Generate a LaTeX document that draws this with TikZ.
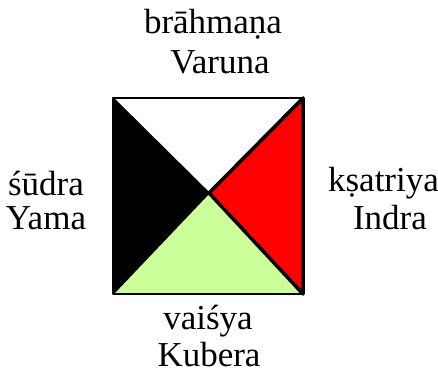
\documentclass[tikz,border=0pt]{standalone}
\usepackage{fontspec}
\setmainfont{Liberation Serif}
\definecolor{lgreen}{HTML}{CCFF99}
\begin{document}
\begin{tikzpicture}[x=1pt,y=1pt,
  lbl/.style={inner sep=0pt,font=\fontsize{35}{41}\selectfont,align=center},
  thin/.style={line width=1.5pt,line join=round},
  thick/.style={line width=3.5pt,line join=round}]
\useasboundingbox (0,0) rectangle (438,376);
\coordinate (tl) at (113,278);
\coordinate (tr) at (303,278);
\coordinate (bl) at (113,82);
\coordinate (br) at (303,82);
\coordinate (c) at (209,183);
\fill[white] (tl) -- (tr) -- (c) -- cycle;
\fill[black] (tl) -- (c) -- (bl) -- cycle;
\fill[lgreen] (bl) -- (c) -- (br) -- cycle;
\draw[thin] (tl) -- (tr) -- (br) -- (bl) -- cycle;
\draw[thin] (tl) -- (c) -- (bl);
\draw[thick,fill=red] (tr) -- (c) -- (br) -- cycle;
\node[lbl] (top1) at (213,352) {brāhmaṇa};
\node[lbl] (top2) at (220,314) {Varuna};
\node[lbl] (l1) at (46,193) {śūdra};
\node[lbl] (l2) at (46,158) {Yama};
\node[lbl] (r1) at (383.5,193) {kṣatriya};
\node[lbl] (r2) at (390,158) {Indra};
\node[lbl] (b1) at (208,55) {vaiśya};
\node[lbl] (b2) at (209,21) {Kubera};
\end{tikzpicture}
\end{document}
